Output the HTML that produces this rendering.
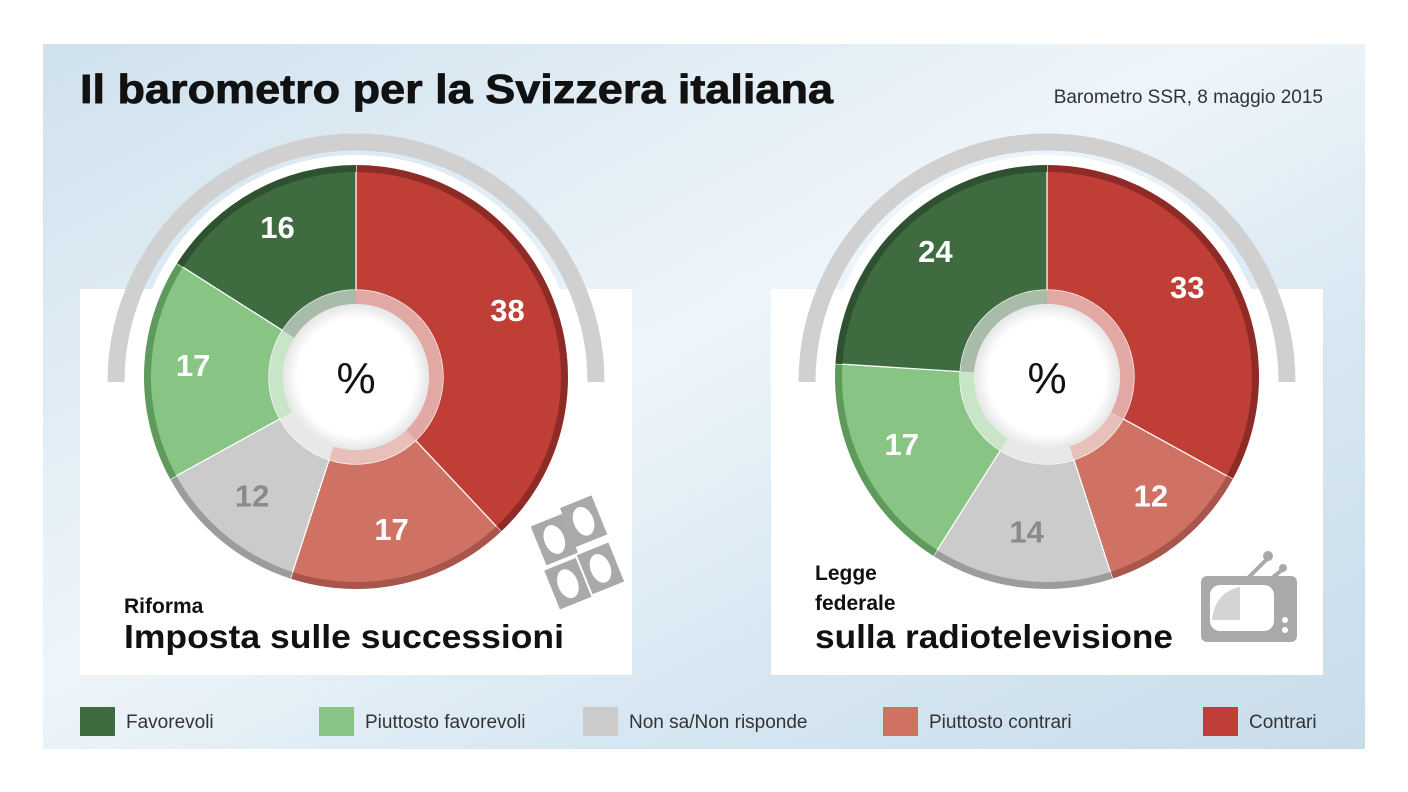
<!DOCTYPE html>
<html><head><meta charset="utf-8"><style>
html,body{margin:0;padding:0;background:#fff}
svg{display:block;font-family:"Liberation Sans",sans-serif}
</style></head><body>
<svg id="chart" width="1408" height="792" viewBox="0 0 1408 792">
<defs>
<linearGradient id="bg" x1="0" y1="0" x2="1" y2="1">
<stop offset="0" stop-color="#cfe1ee"/><stop offset="0.45" stop-color="#eef5fa"/><stop offset="0.7" stop-color="#d7e7f2"/><stop offset="1" stop-color="#c9dcea"/>
</linearGradient>
<radialGradient id="hole" cx="0.5" cy="0.5" r="0.5"><stop offset="0.8" stop-color="#fff"/><stop offset="1" stop-color="#e6e6e6"/></radialGradient>
</defs>
<rect x="43" y="44" width="1322" height="705" fill="url(#bg)"/>
<text x="80" y="103" font-size="41" font-weight="bold" textLength="753" lengthAdjust="spacingAndGlyphs" fill="#111" stroke="#111" stroke-width="0.8">Il barometro per la Svizzera italiana</text>
<text x="1323" y="103" font-size="19" text-anchor="end" fill="#333">Barometro SSR, 8 maggio 2015</text>
<rect x="80" y="289" width="552" height="386" fill="#fff"/>
<rect x="771" y="289" width="552" height="386" fill="#fff"/>
<g id="charts"></g>
<text x="124" y="613" font-size="21" font-weight="bold" fill="#111">Riforma</text>
<text x="124" y="648" font-size="33" font-weight="bold" fill="#111" textLength="440" lengthAdjust="spacingAndGlyphs">Imposta sulle successioni</text>
<text x="815" y="580" font-size="21" font-weight="bold" fill="#111">Legge</text>
<text x="815" y="610" font-size="21" font-weight="bold" fill="#111">federale</text>
<text x="815" y="648" font-size="33" font-weight="bold" fill="#111" textLength="358" lengthAdjust="spacingAndGlyphs">sulla radiotelevisione</text>
<g transform="translate(575,556) rotate(-22)" fill="#a9a9a9">
<rect x="-30" y="-44" width="34" height="42"/><rect x="4" y="-50" width="34" height="42"/>
<rect x="-34" y="2" width="34" height="42"/><rect x="2" y="0" width="34" height="42"/>
<ellipse cx="-13" cy="-23" rx="10" ry="15" fill="#fff"/><ellipse cx="21" cy="-29" rx="10" ry="15" fill="#fff"/>
<ellipse cx="-17" cy="23" rx="10" ry="15" fill="#fff"/><ellipse cx="19" cy="21" rx="10" ry="15" fill="#fff"/>
</g>
<g>
<line x1="1248" y1="578" x2="1268" y2="558" stroke="#a9a9a9" stroke-width="4"/><circle cx="1268" cy="556" r="5" fill="#a9a9a9"/>
<line x1="1272" y1="578" x2="1282" y2="570" stroke="#a9a9a9" stroke-width="4"/><circle cx="1283" cy="568" r="4" fill="#a9a9a9"/>
<rect x="1201" y="576" width="96" height="66" rx="6" fill="#a9a9a9"/>
<rect x="1210" y="585" width="64" height="46" rx="10" fill="#fff"/>
<path d="M1212 620 Q1215 592 1240 587 L1240 620 Z" fill="#a9a9a9" opacity="0.5"/>
<circle cx="1285" cy="630" r="3" fill="#fff"/><circle cx="1285" cy="620" r="3" fill="#fff"/>
</g>
<g id="legend"></g>
</svg>
<script>
const categories = ["Contrari","Piuttosto contrari","Non sa/Non risponde","Piuttosto favorevoli","Favorevoli"];
const valuesLeft = [38,17,12,17,16];
const valuesRight = [33,12,14,17,24];
const legendOrder = ["Favorevoli","Piuttosto favorevoli","Non sa/Non risponde","Piuttosto contrari","Contrari"];
const colors = {"Contrari":"#bf3e36","Piuttosto contrari":"#cf7264","Non sa/Non risponde":"#cbcbcb","Piuttosto favorevoli":"#88c585","Favorevoli":"#3e6b40"};
const rims = {"Contrari":"#8f2b26","Piuttosto contrari":"#a8564b","Non sa/Non risponde":"#9c9c9c","Piuttosto favorevoli":"#5e9a5c","Favorevoli":"#2e5230"};
const NS="http://www.w3.org/2000/svg";
function mk(tag,attrs,parent){const e=document.createElementNS(NS,tag);for(const k in attrs)e.setAttribute(k,attrs[k]);parent.appendChild(e);return e;}
function pt(cx,cy,r,a){return [cx+r*Math.sin(a),cy-r*Math.cos(a)];}
function sector(cx,cy,r0,r1,a0,a1){
  const large=(a1-a0)>Math.PI?1:0;
  const p0=pt(cx,cy,r1,a0),p1=pt(cx,cy,r1,a1),p2=pt(cx,cy,r0,a1),p3=pt(cx,cy,r0,a0);
  return `M${p0} A${r1},${r1} 0 ${large} 1 ${p1} L${p2} A${r0},${r0} 0 ${large} 0 ${p3} Z`;
}
function donut(cx,cy,values,name){
  const g=mk('g',{},document.getElementById('charts'));
  
  
  const arc=mk('path',{d:`M${cx-240},${cy+5} A240,240 0 0 1 ${cx+240},${cy+5}`,fill:'none',stroke:'#d0d0d0','stroke-width':17},g);
  
  
  const wr=mk('circle',{cx:cx,cy:cy,r:222,fill:'#fff'},g);
  
  
  const total=values.reduce((a,b)=>a+b,0);
  let a=0;
  values.forEach((v,i)=>{
    const cat=categories[i];const a1=a+v/total*2*Math.PI;
    const s=mk('path',{d:sector(cx,cy,87,212,a,a1),fill:colors[cat],stroke:'#fff','stroke-width':1.2},g);
    
    
    const rim=mk('path',{d:sector(cx,cy,205,212,a,a1),fill:rims[cat]},g);
    
    
    const ring=mk('path',{d:sector(cx,cy,73,87,a,a1),fill:colors[cat],opacity:0.45},g);
    
    
    const m=(a+a1)/2;const p=pt(cx,cy,163,m);
    const t=mk('text',{x:p[0],y:p[1]+4,'font-size':31,'font-weight':'bold','text-anchor':'middle',fill:cat==="Non sa/Non risponde"?'#8a8a8a':'#fff'},g);
    t.textContent=v;
    
    
    a=a1;
  });
  const h=mk('circle',{cx:cx,cy:cy,r:73,fill:'url(#hole)'},g);
  
  
  const pc=mk('text',{x:cx,y:cy+16,'font-size':44,'text-anchor':'middle',fill:'#111'},g);
  pc.textContent='%';
  
  
}
donut(356,377,valuesLeft,'donut-inheritance-tax');
donut(1047,377,valuesRight,'donut-radio-tv-law');
const lx=[80,319,583,883,1203];
const lg=document.getElementById('legend');
legendOrder.forEach((c,i)=>{
  const r=mk('rect',{x:lx[i],y:707,width:35,height:29,fill:colors[c]},lg);
  
  
  const t=mk('text',{x:lx[i]+46,y:728,'font-size':19,fill:'#333'},lg);
  t.textContent=c;
  
  
});
</script>
</body></html>
